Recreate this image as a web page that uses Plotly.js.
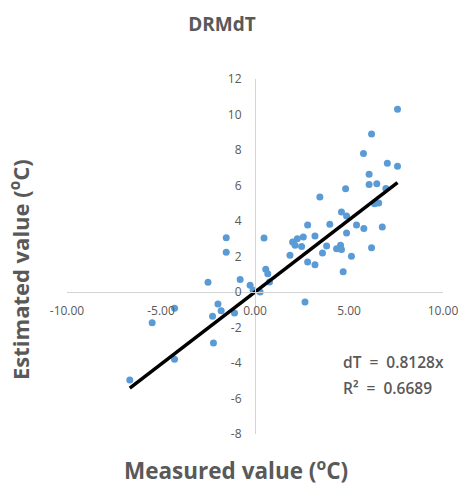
<!DOCTYPE html>
<html>
<head>
<meta charset="utf-8">
<script src="https://cdn.plot.ly/plotly-3.0.1.min.js"></script>
<style>
  html, body { margin: 0; padding: 0; background: #fff; }
  #chart { width: 460px; height: 488px; }
</style>
</head>
<body>
<div id="chart"></div>
<script>
// Measured (x) and estimated (y) values, °C
const measured = [
  -6.66, -5.47, -4.28, -4.28, -2.50, -2.26, -2.21, -1.97, -1.80, -1.09,
  -1.53, -1.53, -0.79, -0.26, -0.10, 0.27, 0.48, 0.57, 0.68, 0.77,
  1.86, 2.00, 2.13, 2.25, 2.48, 2.57, 2.66, 2.80, 2.80, 3.19,
  3.19, 3.45, 3.59, 3.81, 3.98, 4.34, 4.55, 4.60, 4.60, 4.69,
  4.82, 4.87, 4.87, 5.13, 5.40, 5.79, 5.77, 6.07, 6.07, 6.48,
  6.96, 6.36, 6.58, 6.20, 7.04, 7.58, 7.58, 6.77, 6.20
];
const estimated = [
  -4.96, -1.73, -0.92, -3.79, 0.55, -1.37, -2.87, -0.68, -1.05, -1.18,
  3.06, 2.24, 0.70, 0.38, 0.10, 0.00, 3.04, 1.28, 1.03, 0.56,
  2.07, 2.82, 2.63, 3.00, 2.57, 3.10, -0.56, 3.77, 1.69, 3.16,
  1.54, 5.35, 2.20, 2.59, 3.82, 2.44, 2.63, 2.39, 4.51, 1.14,
  5.81, 4.28, 3.33, 2.01, 3.77, 3.58, 7.80, 6.63, 6.06, 6.10,
  5.83, 4.97, 5.02, 8.90, 7.25, 7.08, 10.29, 3.66, 2.49
];
const slope = 0.8128;
const xTickVals = [-10, -5, 0, 5, 10];
const xTickText = ['-10.00', '-5.00', '0.00', '5.00', '10.00'];
const yTickVals = [-8, -6, -4, -2, 0, 2, 4, 6, 8, 10, 12];
const yTickText = ['-8', '-6', '-4', '-2', '0', '2', '4', '6', '8', '10', '12'];
const chartTitle = 'DRMdT';
const xTitle = 'Measured value (<sup>o</sup>C)';
const yTitle = 'Estimated value (<sup>o</sup>C)';
const eqLine1 = 'dT  =  0.8128x';
const eqLine2 = 'R²  =  0.6689';

const xMin = Math.min(...measured), xMax = Math.max(...measured);
const fitX = [xMin, xMax];
const fitY = fitX.map(v => slope * v);

const gray = '#595959';
const font = 'Open Sans, Segoe UI, sans-serif';

const traces = [
  {
    x: measured, y: estimated, type: 'scatter', mode: 'markers',
    marker: { color: '#5b9bd5', size: 7 }, hoverinfo: 'x+y'
  },
  {
    x: fitX, y: fitY, type: 'scatter', mode: 'lines',
    line: { color: '#000000', width: 3.5 }, hoverinfo: 'skip'
  }
];

const layout = {
  width: 460, height: 488,
  margin: { l: 67, r: 17, t: 79, b: 54 },
  paper_bgcolor: '#ffffff', plot_bgcolor: '#ffffff',
  showlegend: false,
  font: { family: font, color: gray },
  title: {
    text: chartTitle, x: 222 / 460, xanchor: 'center', y: 1 - 24 / 488, yanchor: 'middle',
    font: { family: font, size: 19, color: gray, weight: 'bold' }
  },
  xaxis: {
    range: [-10, 10], anchor: 'free', position: 0.4,
    showgrid: false, zeroline: false, showline: true, linecolor: '#d4d4d4', linewidth: 1,
    ticks: '', tickmode: 'array', tickvals: xTickVals, ticktext: xTickText,
    tickfont: { family: font, size: 12, color: gray },
    ticklabelstandoff: 8, fixedrange: true
  },
  yaxis: {
    range: [-8, 12], anchor: 'free', position: 0.5,
    showgrid: false, zeroline: false, showline: true, linecolor: '#d4d4d4', linewidth: 1,
    ticks: '', tickmode: 'array', tickvals: yTickVals, ticktext: yTickText,
    tickfont: { family: font, size: 12, color: gray },
    ticklabelstandoff: 11, fixedrange: true
  },
  annotations: [
    {
      text: xTitle, xref: 'paper', yref: 'paper', x: (236 - 67) / 376, y: -0.1,
      xanchor: 'center', yanchor: 'middle', showarrow: false,
      font: { family: font, size: 22.5, color: gray, weight: 'bold' }
    },
    {
      text: yTitle, xref: 'paper', yref: 'paper', x: -0.125, y: 0.462,
      xanchor: 'center', yanchor: 'middle', showarrow: false, textangle: -90,
      font: { family: font, size: 22, color: gray, weight: 'bold' }
    },
    {
      text: eqLine1, xref: 'x', yref: 'y', x: 4.55, y: -3.95,
      xanchor: 'left', yanchor: 'middle', showarrow: false, align: 'left',
      font: { family: font, size: 15.5, color: gray, weight: 600 }
    },
    {
      text: eqLine2, xref: 'x', yref: 'y', x: 4.55, y: -5.4,
      xanchor: 'left', yanchor: 'middle', showarrow: false, align: 'left',
      font: { family: font, size: 15.5, color: gray, weight: 600 }
    }
  ]
};

Plotly.newPlot('chart', traces, layout, { displayModeBar: false, staticPlot: true });
</script>
</body>
</html>
